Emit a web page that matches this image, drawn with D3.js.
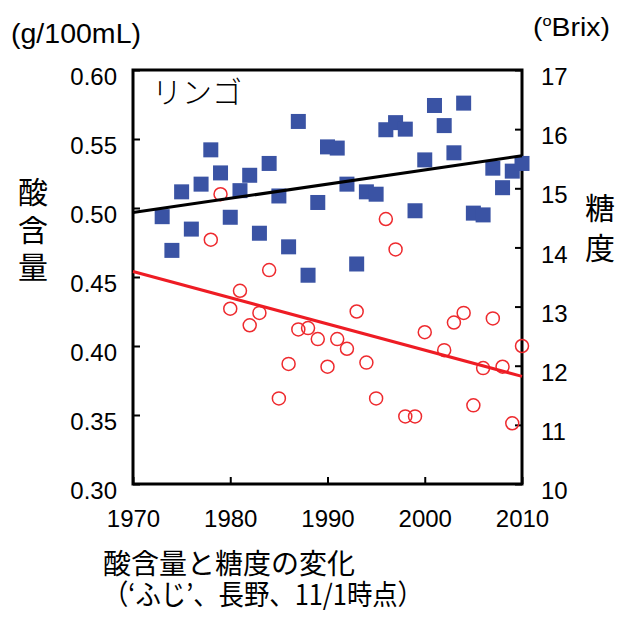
<!DOCTYPE html>
<html>
<head>
<meta charset="utf-8">
<script src="https://cdn.jsdelivr.net/npm/d3@7"></script>
<style>
  body { margin: 0; background: #fff; }
  svg { display: block; }
</style>
</head>
<body>
<svg id="chart" width="621" height="619"></svg>
<script>
// sugar (Brix, right axis) - blue squares
const brixYears = [1973, 1974, 1975, 1976, 1977, 1978, 1979, 1980, 1981, 1982, 1983, 1984, 1985, 1986, 1987, 1988, 1989, 1990, 1991,
    1992, 1993, 1994, 1995, 1996, 1997, 1998, 1999, 2000, 2001, 2002, 2003, 2004, 2005, 2006, 2007, 2008, 2009, 2010];
const brixValues = [14.52, 13.95, 14.94, 14.31, 15.07, 15.65, 15.26, 14.51, 14.96, 15.22, 14.24, 15.42, 14.87, 14.01, 16.13, 13.53, 14.76, 15.70, 15.68,
    15.07, 13.72, 14.94, 14.90, 15.99, 16.11, 16.00, 14.62, 15.48, 16.40, 16.06, 15.60, 16.44, 14.58, 14.55, 15.34, 15.01, 15.29, 15.42];

// acid (g/100mL, left axis) - red circles
const acidYears = [1978, 1979, 1980, 1981, 1982, 1983, 1984, 1985, 1986, 1987, 1988, 1989, 1990, 1991, 1992, 1993, 1994, 1995, 1996,
    1997, 1998, 1999, 2000, 2002, 2003, 2004, 2005, 2006, 2007, 2008, 2009, 2010];
const acidValues = [0.477, 0.510, 0.427, 0.440, 0.415, 0.424, 0.455, 0.362, 0.387, 0.412, 0.413, 0.405, 0.385, 0.405, 0.398, 0.425, 0.388, 0.362, 0.492,
    0.470, 0.349, 0.349, 0.410, 0.397, 0.417, 0.424, 0.357, 0.384, 0.420, 0.385, 0.344, 0.400];

const trendYears = [1970, 2010];
const brixTrend = [14.59, 15.55];
const acidTrend = [0.454, 0.378];

const yearTicks = [1970, 1980, 1990, 2000, 2010];
const acidTicks = [0.30, 0.35, 0.40, 0.45, 0.50, 0.55, 0.60];
const brixTicks = [10, 11, 12, 13, 14, 15, 16, 17];

class AppleChart {
    constructor(_config) {
        this.config = {
            parentElement: _config.parentElement,
            left: 133, right: 522, top: 70, bottom: 484
        };
        this.initVis();
    }

    initVis() {
        let vis = this;
        const c = vis.config;
        vis.svg = d3.select(c.parentElement);

        vis.x = d3.scaleLinear().domain([1970, 2010]).range([c.left, c.right]);
        vis.yAcid = d3.scaleLinear().domain([0.30, 0.60]).range([c.bottom, c.top]);
        vis.yBrix = d3.scaleLinear().domain([10, 17]).range([c.bottom, c.top]);

        const numFont = "'Liberation Sans', Arial, sans-serif";
        const jpFont = "'Noto Sans CJK JP', 'Noto Sans', sans-serif";

        // axes - ticks point inward
        const gLeft = vis.svg.append("g")
            .attr("transform", `translate(${c.left},0)`)
            .call(d3.axisLeft(vis.yAcid).tickValues(acidTicks).tickFormat(d3.format(".2f")).tickSize(-7).tickPadding(16));
        gLeft.selectAll("text").attr("y", 7);

        const gRight = vis.svg.append("g")
            .attr("transform", `translate(${c.right},0)`)
            .call(d3.axisRight(vis.yBrix).tickValues(brixTicks).tickFormat(d3.format("d")).tickSize(-7).tickPadding(19));
        gRight.selectAll("text").attr("y", 7);

        const gBottom = vis.svg.append("g")
            .attr("transform", `translate(0,${c.bottom})`)
            .call(d3.axisBottom(vis.x).tickValues(yearTicks).tickFormat(d3.format("d")).tickSize(-7));
        gBottom.selectAll("text").attr("y", 35).attr("dy", "0.35em");

        vis.svg.selectAll(".domain").remove();
        vis.svg.selectAll(".tick line").attr("stroke", "#000").attr("stroke-width", 2);
        vis.svg.selectAll(".tick text")
            .attr("fill", "#000")
            .style("font-family", numFont)
            .style("font-size", "24px");

        // frame
        vis.svg.append("rect")
            .attr("x", c.left).attr("y", c.top)
            .attr("width", c.right - c.left).attr("height", c.bottom - c.top)
            .attr("fill", "none").attr("stroke", "#000").attr("stroke-width", 3);

        // markers
        vis.svg.selectAll("circle.acid")
            .data(acidYears.map((d, i) => ({year: d, value: acidValues[i]})))
            .join("circle")
            .attr("class", "acid")
            .attr("cx", d => vis.x(d.year))
            .attr("cy", d => vis.yAcid(d.value))
            .attr("r", 6.5)
            .attr("fill", "none")
            .attr("stroke", "#ee2a2e")
            .attr("stroke-width", 1.5);

        const sq = 15;
        vis.svg.selectAll("rect.brix")
            .data(brixYears.map((d, i) => ({year: d, value: brixValues[i]})))
            .join("rect")
            .attr("class", "brix")
            .attr("x", d => vis.x(d.year) - sq / 2)
            .attr("y", d => vis.yBrix(d.value) - sq / 2)
            .attr("width", sq).attr("height", sq)
            .attr("fill", "#3a53a4");

        // trend lines
        const line = (yScale, vals) => d3.line()
            .x(d => vis.x(d))
            .y((d, i) => yScale(vals[i]))(trendYears);

        vis.svg.append("path")
            .attr("d", line(vis.yBrix, brixTrend))
            .attr("stroke", "#000").attr("stroke-width", 3).attr("fill", "none");
        vis.svg.append("path")
            .attr("d", line(vis.yAcid, acidTrend))
            .attr("stroke", "#ee1c24").attr("stroke-width", 3).attr("fill", "none");

        // texts
        vis.svg.append("text")
            .attr("x", 11).attr("y", 43)
            .attr("textLength", 130).attr("lengthAdjust", "spacingAndGlyphs")
            .style("font-family", numFont).style("font-size", "28px")
            .text("(g/100mL)");

        const brixUnit = vis.svg.append("text")
            .attr("x", 533).attr("y", 36)
            .attr("textLength", 77).attr("lengthAdjust", "spacingAndGlyphs")
            .style("font-family", numFont).style("font-size", "26px");
        brixUnit.append("tspan").text("(");
        brixUnit.append("tspan").attr("dy", -10).style("font-size", "15px").text("o");
        brixUnit.append("tspan").attr("dy", 10).text("Brix)");

        vis.svg.append("text")
            .attr("x", 152).attr("y", 103)
            .style("font-family", jpFont).style("font-size", "30px").style("font-weight", 300)
            .text("リンゴ");

        // vertical titles
        vis.svg.append("text")
            .attr("x", 33).attr("y", 177)
            .style("writing-mode", "vertical-rl")
            .style("letter-spacing", "7.5px")
            .style("font-family", jpFont).style("font-size", "30px")
            .text("酸含量");

        vis.svg.append("text")
            .attr("x", 600).attr("y", 193)
            .style("writing-mode", "vertical-rl")
            .style("letter-spacing", "10px")
            .style("font-family", jpFont).style("font-size", "30px")
            .text("糖度");

        // caption
        const cap = vis.svg.append("text")
            .style("font-family", jpFont).style("font-size", "28px");
        cap.append("tspan").attr("x", 103).attr("y", 574).text("酸含量と糖度の変化");
        cap.append("tspan").attr("x", 103).attr("y", 605)
            .attr("textLength", 320).attr("lengthAdjust", "spacingAndGlyphs")
            .text("（‘ふじ’、長野、11/1時点）");
    }
}

new AppleChart({parentElement: "#chart"});
</script>
</body>
</html>
